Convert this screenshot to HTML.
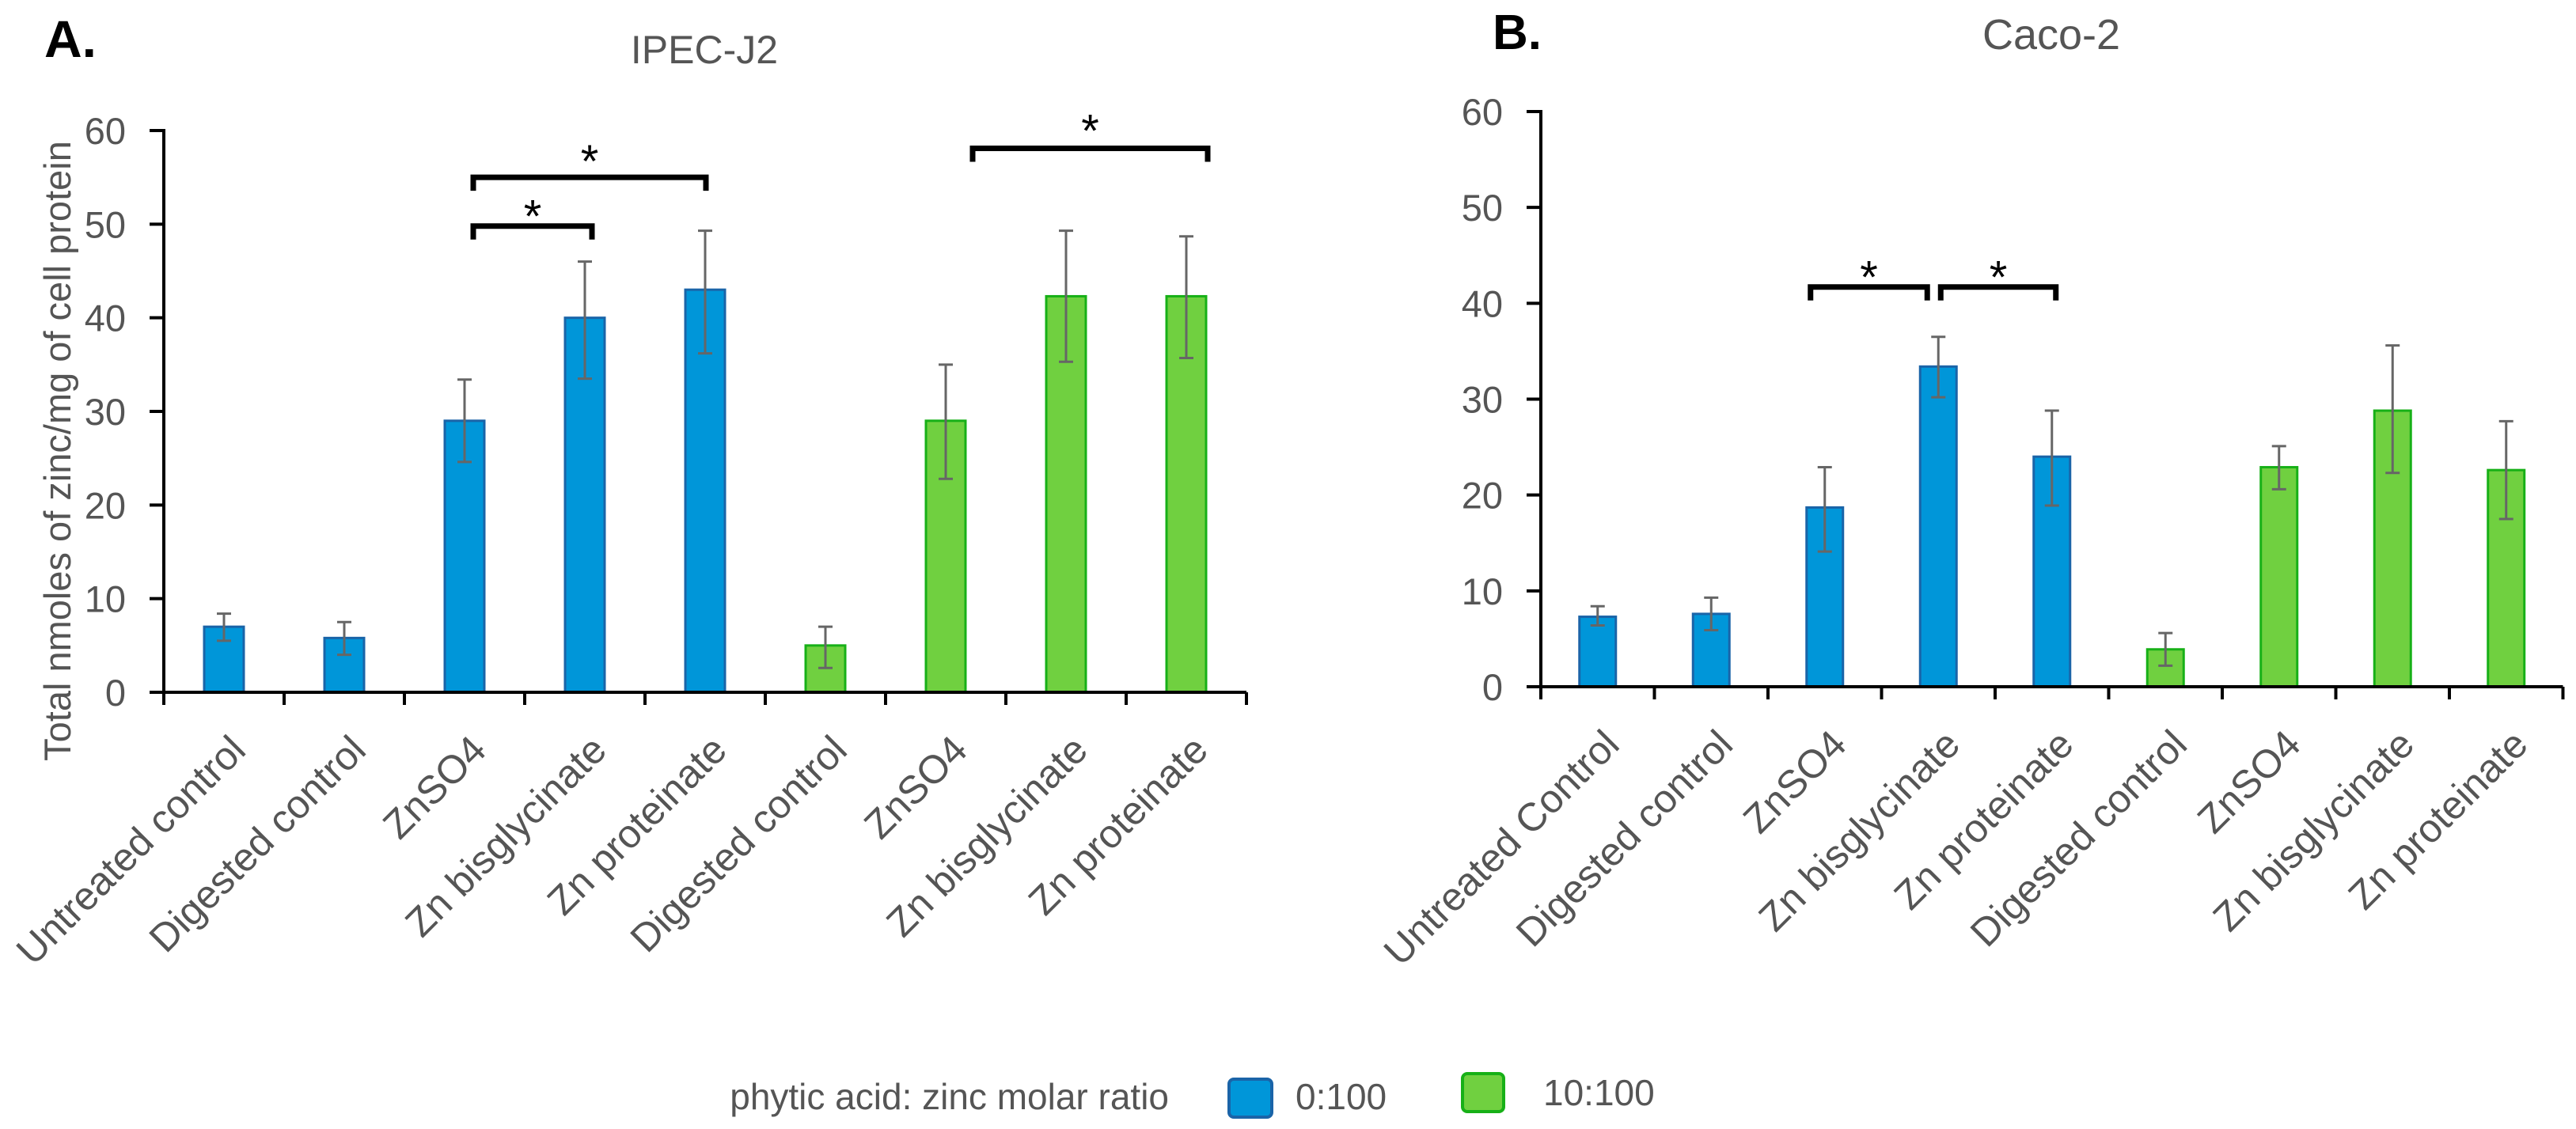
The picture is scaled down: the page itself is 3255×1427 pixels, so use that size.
<!DOCTYPE html>
<html><head><meta charset="utf-8"><style>
html,body{margin:0;padding:0;background:#fff;}
svg{display:block;font-family:"Liberation Sans",Arial,sans-serif;}
</style></head><body>
<svg id="fig" width="3255" height="1427" viewBox="0 0 3255 1427" xmlns="http://www.w3.org/2000/svg">
<text x="56" y="72" font-size="66" font-weight="bold" fill="#000">A.</text>
<text x="890" y="80" font-size="50" fill="#555" text-anchor="middle">IPEC-J2</text>
<text x="1886" y="62" font-size="62" font-weight="bold" fill="#000">B.</text>
<text x="2592" y="62" font-size="54" fill="#555" text-anchor="middle">Caco-2</text>
<text transform="translate(89,570) rotate(-90)" font-size="47" fill="#555" text-anchor="middle">Total nmoles of zinc/mg of cell protein</text>
<g id="legend">
<text x="1477" y="1402" font-size="46" fill="#555" text-anchor="end">phytic acid: zinc molar ratio</text>
<rect x="1553" y="1364" width="54" height="48" rx="6" fill="#0096d9" stroke="#1a64a8" stroke-width="4"/>
<text x="1637" y="1402" font-size="46" fill="#555">0:100</text>
<rect x="1848" y="1357" width="52" height="48" rx="6" fill="#70d040" stroke="#17b017" stroke-width="4"/>
<text x="1950" y="1397" font-size="46" fill="#555">10:100</text>
</g>
</svg>
<script>
const catsA = ["Untreated control","Digested control","ZnSO4","Zn bisglycinate","Zn proteinate","Digested control","ZnSO4","Zn bisglycinate","Zn proteinate"];
const catsB = ["Untreated Control","Digested control","ZnSO4","Zn bisglycinate","Zn proteinate","Digested control","ZnSO4","Zn bisglycinate","Zn proteinate"];
const groups = [0,0,0,0,0,1,1,1,1];
const valuesA = [7.0,5.8,29.0,40.0,43.0,5.0,29.0,42.3,42.3];
const errHiA = [8.4,7.5,33.4,46.0,49.3,7.0,35.0,49.3,48.7];
const errLoA = [5.5,4.0,24.6,33.5,36.2,2.6,22.8,35.3,35.7];
const valuesB = [7.3,7.6,18.7,33.4,24.0,3.9,22.9,28.8,22.6];
const errHiB = [8.4,9.3,22.9,36.5,28.8,5.6,25.1,35.6,27.7];
const errLoB = [6.4,5.9,14.1,30.2,18.9,2.2,20.6,22.3,17.5];
const yTicks = [0,10,20,30,40,50,60];
const bracketFromA = [2,2,6];
const bracketToA = [3,4,8];
const bracketYA = [49.8,55.0,58.1];
const bracketFromB = [2,3];
const bracketToB = [3,4];
const bracketYB = [41.7,41.7];

const NS = "http://www.w3.org/2000/svg";
const svg = document.getElementById('fig');
function mk(tag, attrs, parent){const e=document.createElementNS(NS,tag);for(const k in attrs)e.setAttribute(k,attrs[k]);(parent||svg).appendChild(e);return e;}
const fills=["#0096d9","#70d040"], strokes=["#1a64a8","#17b017"];

function drawPanel(p){
  const g = mk('g',{});
  
  
  const n = p.cats.length;
  const y = v => p.y0 - v*(p.y0-p.y60)/60;
  const cx = i => p.x0 + p.step*(i+0.5);
  const xEnd = p.x0 + p.step*n;
  yTicks.forEach(t=>{
    const l = mk('line',{x1:p.x0-18,x2:p.x0,y1:y(t),y2:y(t),stroke:"#000","stroke-width":4},g);
    
    
    const tx = mk('text',{x:p.x0-48,y:y(t)+17,"font-size":47,fill:"#555","text-anchor":"end"},g);
    tx.textContent = t;
    
    
  });
  for(let i=0;i<=n;i++){
    const l = mk('line',{x1:p.x0+p.step*i,x2:p.x0+p.step*i,y1:p.y0,y2:p.y0+16,stroke:"#000","stroke-width":4},g);
    
    
  }
  const ya = mk('line',{x1:p.x0,x2:p.x0,y1:y(60)-2,y2:p.y0+2,stroke:"#000","stroke-width":4},g);
  
  
  p.vals.forEach((v,i)=>{
    const gi = groups[i];
    const r = mk('rect',{x:cx(i)-p.bw/2,y:y(v),width:p.bw,height:p.y0-y(v),fill:fills[gi],stroke:strokes[gi],"stroke-width":3},g);
    
    
    const eb = mk('path',{d:`M${cx(i)-9},${y(p.hi[i])}H${cx(i)+9}M${cx(i)},${y(p.hi[i])}V${y(p.lo[i])}M${cx(i)-9},${y(p.lo[i])}H${cx(i)+9}`,stroke:"#666","stroke-width":3,fill:"none"},g);
    
    
    const lx = cx(i)+30, ly = p.y0+76;
    const lab = mk('text',{x:lx,y:ly,"font-size":50,fill:"#555","text-anchor":"end",transform:`rotate(-45 ${lx} ${ly})`},g);
    lab.textContent = p.cats[i];
    
    
  });
  const xa = mk('line',{x1:p.x0-18,x2:xEnd,y1:p.y0,y2:p.y0,stroke:"#000","stroke-width":4},g);
  
  
  p.bf.forEach((f,k)=>{
    const x1 = cx(f)+p.bo[k][0], x2 = cx(p.bt[k])+p.bo[k][1], by = y(p.by[k]);
    const b = mk('path',{d:`M${x1},${by+17}V${by}H${x2}V${by+17}`,stroke:"#000","stroke-width":7,fill:"none"},g);
    
    
    const s = mk('text',{x:(x1+x2)/2,y:by-p.so[k],"font-size":58,fill:"#000","text-anchor":"middle"},g);
    s.textContent = "*";
    
    
  });
}
drawPanel({name:"panel-a-chart",cats:catsA,vals:valuesA,hi:errHiA,lo:errLoA,x0:207,step:152,y0:875,y60:165,bw:50,
  bf:bracketFromA,bt:bracketToA,by:bracketYA,bo:[[11,9],[11,1],[34,27]],so:[-8,0,2]});
drawPanel({name:"panel-b-chart",cats:catsB,vals:valuesB,hi:errHiB,lo:errLoB,x0:1947,step:143.5,y0:868,y60:141,bw:46,
  bf:bracketFromB,bt:bracketToB,by:bracketYB,bo:[[-18,-14],[3,5]],so:[-8,-8]});
</script>
</body></html>
